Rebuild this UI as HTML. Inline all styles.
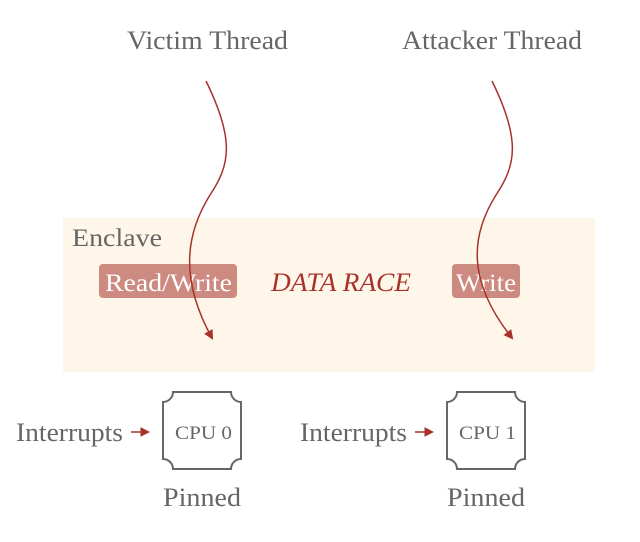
<!DOCTYPE html>
<html><head><meta charset="utf-8"><style>
body{margin:0;background:#fff;}
svg{display:block;font-family:"Liberation Serif",serif;}
</style></head><body>
<svg width="640" height="542" viewBox="0 0 640 542">
<defs>
<marker id="a" markerWidth="10" markerHeight="10" refX="8" refY="5" orient="auto" markerUnits="userSpaceOnUse">
<path d="M1,1 L9,5 L1,9 Z" fill="#a8322a" stroke="#a8322a" stroke-width="1"/>
</marker>
</defs>
<rect x="63" y="218" width="532" height="154" fill="#fdf6e9"/>
<text x="127" y="49" font-size="26" fill="#666" textLength="161" lengthAdjust="spacingAndGlyphs">Victim Thread</text>
<text x="402" y="49" font-size="26" fill="#666" textLength="180" lengthAdjust="spacingAndGlyphs">Attacker Thread</text>
<text x="72" y="246" font-size="25" fill="#666" textLength="90" lengthAdjust="spacingAndGlyphs">Enclave</text>
<rect x="99" y="264" width="138" height="34" rx="4" fill="#cd8a80"/>
<text x="105" y="291" font-size="25" fill="#fff" textLength="127" lengthAdjust="spacingAndGlyphs">Read/Write</text>
<rect x="452" y="264" width="68" height="34" rx="4" fill="#cd8a80"/>
<text x="456" y="291" font-size="25" fill="#fff" textLength="60" lengthAdjust="spacingAndGlyphs">Write</text>
<text x="271" y="291" font-size="26" font-style="italic" fill="#a8322a" textLength="140" lengthAdjust="spacingAndGlyphs">DATA RACE</text>
<path d="M206,81 C235,140 230,165 210,195 C185,235 180,280 212,338" fill="none" stroke="#a8322a" stroke-width="1.5" marker-end="url(#a)"/>
<path d="M492,81 C521,140 516,165 496,195 C471,235 466,280 512,338" fill="none" stroke="#a8322a" stroke-width="1.5" marker-end="url(#a)"/>
<g fill="none" stroke="#666" stroke-width="2">
<path d="M173,392 H231 A10,10 0 0 0 241,402 V459 A10,10 0 0 0 231,469 H173 A10,10 0 0 0 163,459 V402 A10,10 0 0 0 173,392 Z"/>
<path d="M457,392 H515 A10,10 0 0 0 525,402 V459 A10,10 0 0 0 515,469 H457 A10,10 0 0 0 447,459 V402 A10,10 0 0 0 457,392 Z"/>
</g>
<text x="175" y="439" font-size="19" fill="#666" textLength="57" lengthAdjust="spacingAndGlyphs">CPU 0</text>
<text x="459" y="439" font-size="19" fill="#666" textLength="57" lengthAdjust="spacingAndGlyphs">CPU 1</text>
<text x="16" y="441" font-size="26" fill="#666" textLength="107" lengthAdjust="spacingAndGlyphs">Interrupts</text>
<text x="300" y="441" font-size="26" fill="#666" textLength="107" lengthAdjust="spacingAndGlyphs">Interrupts</text>
<path d="M131,432 H148" stroke="#a8322a" stroke-width="1.5" marker-end="url(#a)"/>
<path d="M415,432 H432" stroke="#a8322a" stroke-width="1.5" marker-end="url(#a)"/>
<text x="163" y="506" font-size="26" fill="#666" textLength="78" lengthAdjust="spacingAndGlyphs">Pinned</text>
<text x="447" y="506" font-size="26" fill="#666" textLength="78" lengthAdjust="spacingAndGlyphs">Pinned</text>
</svg>
</body></html>
